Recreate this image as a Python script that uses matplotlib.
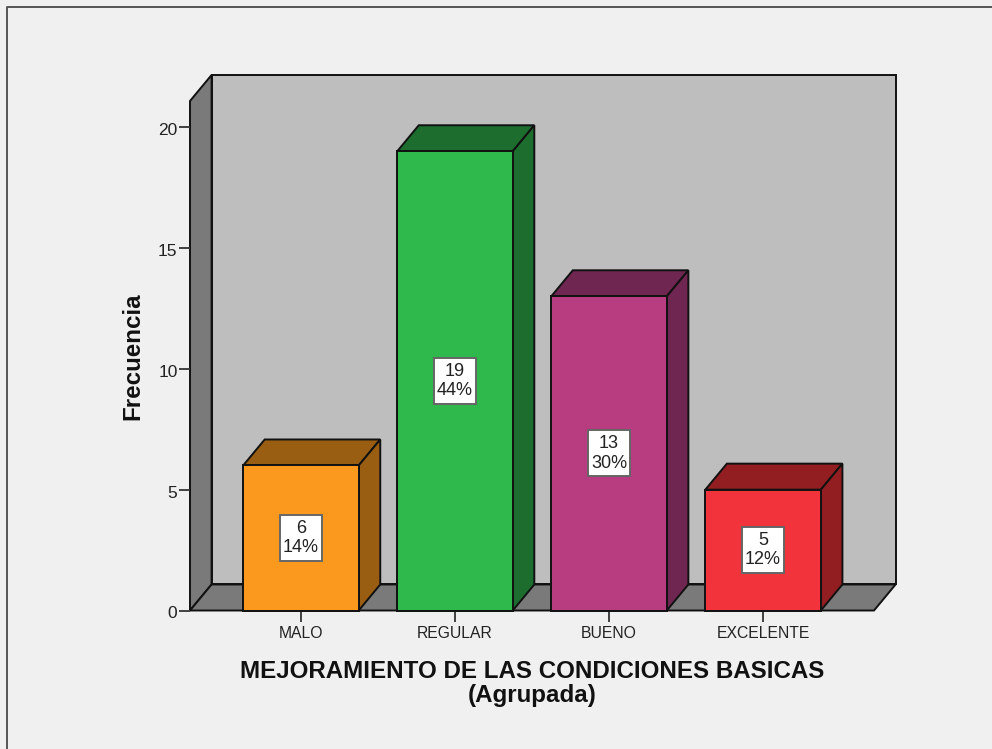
import matplotlib
matplotlib.use('Agg')
import matplotlib.pyplot as plt
from matplotlib.lines import Line2D
from matplotlib.patches import Polygon, Rectangle
from matplotlib.transforms import ScaledTranslation

plt.rcParams['font.family'] = ['Liberation Sans', 'DejaVu Sans']

categories = ['MALO', 'REGULAR', 'BUENO', 'EXCELENTE']
values = [6, 19, 13, 5]
percents = ['14%', '44%', '30%', '12%']
front_colors = ['#fb991f', '#2fb84c', '#b83c80', '#f2333b']
side_colors = ['#9a5e13', '#1d6e2e', '#6f2650', '#921e22']
y_ticks = [0, 5, 10, 15, 20]

WALL = '#bebebe'
FLOOR = '#7a7a7a'
EDGE = '#111111'
BAR_W = 0.75
X0, X1 = -0.72, 3.72
Y1 = 21.08
DX = 0.14   # depth offset, data units
DY = 1.076
BOX_W = 0.27   # value label box
BOX_H = 1.9

W, H = 992, 749
fig = plt.figure(figsize=(W / 100, H / 100), dpi=100, facecolor='#f0f0f0')
ax = fig.add_axes([190 / W, (H - 610.5) / H, 684 / W, 509.5 / H])
ax.set_xlim(X0, X1)
ax.set_ylim(0, Y1)
ax.patch.set_visible(False)
for s in ax.spines.values():
    s.set_visible(False)


def face(pts, color, z):
    ax.add_patch(Polygon(pts, closed=True, facecolor=color, edgecolor=EDGE,
                         linewidth=1.4, joinstyle='miter', clip_on=False, zorder=z))


# back wall, side wall, floor
face([(X0 + DX, DY), (X1 + DX, DY), (X1 + DX, Y1 + DY), (X0 + DX, Y1 + DY)], WALL, 1)
face([(X0, 0), (X0 + DX, DY), (X0 + DX, Y1 + DY), (X0, Y1)], FLOOR, 1)
face([(X0, 0), (X1, 0), (X1 + DX, DY), (X0 + DX, DY)], FLOOR, 1)

for i, v in enumerate(values):
    l, r = i - BAR_W / 2, i + BAR_W / 2
    face([(l, v), (r, v), (r + DX, v + DY), (l + DX, v + DY)], side_colors[i], 2 + i)
    face([(r, 0), (r + DX, DY), (r + DX, v + DY), (r, v)], side_colors[i], 2 + i)
    face([(l, 0), (r, 0), (r, v), (l, v)], front_colors[i], 2 + i)
    ax.add_patch(Rectangle((i - BOX_W / 2, v / 2 - BOX_H / 2), BOX_W, BOX_H, facecolor='white',
                           edgecolor='#666666', linewidth=1.4, zorder=9))
    ax.text(i, v / 2, f'{v}\n{percents[i]}', ha='center', va='center', fontsize=13,
            color='#222222', linespacing=1.2, zorder=10)

ax.set_xticks(range(len(categories)), categories)
ax.set_yticks(y_ticks)
ax.tick_params(axis='both', length=8, width=1.3, color='#333333',
               labelcolor='#222222')
ax.tick_params(axis='x', labelsize=11.3, pad=3)
ax.tick_params(axis='y', labelsize=12.5, pad=1)
# y labels sit a little under their ticks
for lab in ax.get_yticklabels():
    lab.set_transform(lab.get_transform() + ScaledTranslation(0, -2 / 100, fig.dpi_scale_trans))
ax.set_xlabel('MEJORAMIENTO DE LAS CONDICIONES BASICAS\n(Agrupada)', fontsize=17.4,
              fontweight='bold', color='#111111', labelpad=14, linespacing=1.03)
ax.set_ylabel('Frecuencia', fontsize=17.4, fontweight='bold', color='#111111', labelpad=10)

# window border
fig.add_artist(Line2D([7 / W, 7 / W, 1], [0, (H - 7) / H, (H - 7) / H],
                      color='#555555', linewidth=1.4))

fig.savefig('out.png', dpi=100, facecolor=fig.get_facecolor())
